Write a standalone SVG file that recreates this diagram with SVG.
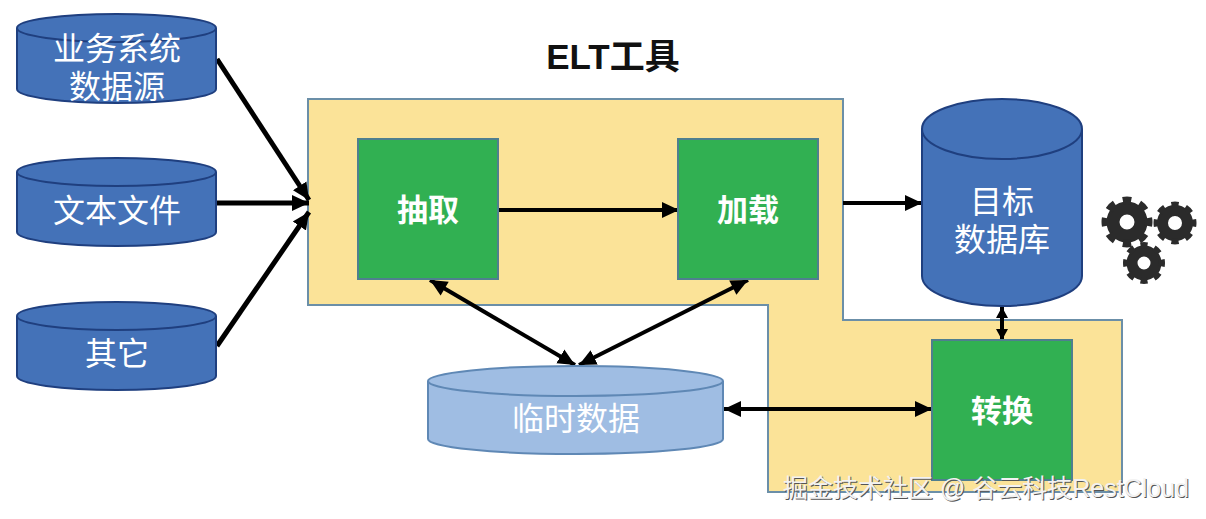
<svg xmlns="http://www.w3.org/2000/svg" width="1206" height="519" viewBox="0 0 1206 519">
<style>
text{font-family:"Liberation Sans","Noto Sans CJK SC",sans-serif;text-anchor:middle}
.cyl{fill:#4472b8;stroke:#1f3f7f;stroke-width:2}
.lite{fill:#9fbde3;stroke:#5f88b5;stroke-width:2}
.cap{fill:none}
.lbl{fill:#fff;font-size:32px}
.proc{fill:#31b052;stroke:#4f7f8f;stroke-width:2}
.plbl{fill:#fff;font-size:31px;font-weight:bold}
.line{stroke:#000;stroke-width:4;fill:none;marker-end:url(#a)}
.heavy{stroke-width:5}
.both{marker-start:url(#as)}
.short{marker-start:url(#ss);marker-end:url(#se)}
.teeth{fill:none;stroke:#2b2b2b}
.wm{font-size:25px;text-anchor:start}
</style>
<defs>
<marker id="a" markerUnits="userSpaceOnUse" markerWidth="20" markerHeight="18" refX="17" refY="9" orient="auto"><path d="M0 1L17 9L0 17z"/></marker>
<marker id="as" markerUnits="userSpaceOnUse" markerWidth="20" markerHeight="18" refX="0" refY="9" orient="auto"><path d="M17 1L0 9L17 17z"/></marker>
<marker id="se" markerUnits="userSpaceOnUse" markerWidth="12" markerHeight="14" refX="11" refY="7" orient="auto"><path d="M0 1L11 7L0 13z"/></marker>
<marker id="ss" markerUnits="userSpaceOnUse" markerWidth="12" markerHeight="14" refX="0" refY="7" orient="auto"><path d="M11 1L0 7L11 13z"/></marker>
</defs>
<g id="tool-area"><path d="M308 99H843V320H1122V492H768V305H308Z" fill="#fbe398" stroke="#6b8fa8" stroke-width="2"/></g>
<g id="title"><text x="613" y="69" font-size="35" font-weight="bold" fill="#111">ELT工具</text></g>
<g id="connectors">
<path class="line heavy" d="M217 59L309 200"/>
<path class="line heavy" d="M217 203H309"/>
<path class="line heavy" d="M217 346L309 212"/>
<path class="line" d="M499 210H679"/>
<path class="line" d="M843 203H922"/>
<path class="line both" d="M430 280L575 365"/>
<path class="line both" d="M748 280L579 365"/>
<path class="line short" d="M1002 307V340"/>
<path class="line both" d="M724 409H932"/>
</g>
<g id="source-business"><path class="cyl" d="M17 28A99.500 14 0 0 1 216 28V89A99.500 14 0 0 1 17 89Z"/><path class="cyl cap" d="M17 28A99.500 14 0 0 0 216 28"/><text class="lbl" x="117" y="60">业务系统</text><text class="lbl" x="117" y="98">数据源</text></g>
<g id="source-text"><path class="cyl" d="M17 172A99.500 14 0 0 1 216 172V232A99.500 14 0 0 1 17 232Z"/><path class="cyl cap" d="M17 172A99.500 14 0 0 0 216 172"/><text class="lbl" x="117" y="222">文本文件</text></g>
<g id="source-other"><path class="cyl" d="M17 316A99.500 14 0 0 1 216 316V376A99.500 14 0 0 1 17 376Z"/><path class="cyl cap" d="M17 316A99.500 14 0 0 0 216 316"/><text class="lbl" x="117" y="365">其它</text></g>
<g id="extract"><rect class="proc" x="358" y="139" width="140" height="140"/><text class="plbl" x="428" y="221">抽取</text></g>
<g id="load"><rect class="proc" x="678" y="139" width="140" height="140"/><text class="plbl" x="748" y="221">加载</text></g>
<g id="transform"><rect class="proc" x="932" y="340" width="140" height="140"/><text class="plbl" x="1002" y="422">转换</text></g>
<g id="temp-data"><path class="lite" d="M428 381A147.500 15 0 0 1 723 381V439A147.500 15 0 0 1 428 439Z"/><path class="lite cap" d="M428 381A147.500 15 0 0 0 723 381"/><text class="lbl" x="576" y="430">临时数据</text></g>
<g id="target-db"><path class="cyl" d="M922 129A80 30 0 0 1 1082 129V276A80 30 0 0 1 922 276Z"/><path class="cyl cap" d="M922 129A80 30 0 0 0 1082 129"/><text class="lbl" x="1002" y="213">目标</text><text class="lbl" x="1002" y="251">数据库</text></g>
<g id="gears">
<circle class="teeth" cx="1127" cy="222" r="14" stroke-width="13"/>
<circle class="teeth" cx="1127" cy="222" r="21.500" stroke-width="8" pathLength="16" stroke-dasharray="1 1" stroke-dashoffset="0.500"/>
<circle class="teeth" cx="1175" cy="223" r="12.500" stroke-width="11"/>
<circle class="teeth" cx="1175" cy="223" r="18.500" stroke-width="6" pathLength="16" stroke-dasharray="1 1" stroke-dashoffset="0.500"/>
<circle class="teeth" cx="1144" cy="263" r="12" stroke-width="11"/>
<circle class="teeth" cx="1144" cy="263" r="18" stroke-width="6" pathLength="16" stroke-dasharray="1 1" stroke-dashoffset="0.500"/>
</g>
<g id="watermark"><text class="wm" x="784" y="498" fill="#555">掘金技术社区 @ 谷云科技RestCloud</text><text class="wm" x="783" y="497" fill="#f2f2f2">掘金技术社区 @ 谷云科技RestCloud</text></g>
</svg>
